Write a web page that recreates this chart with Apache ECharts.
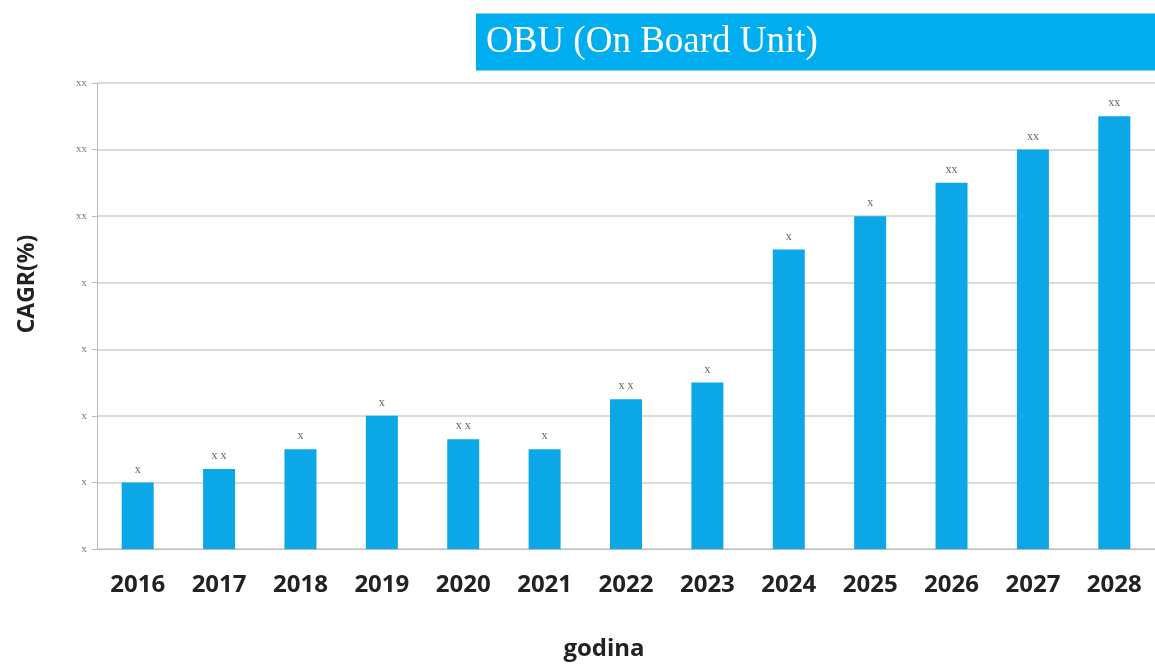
<!DOCTYPE html>
<html><head><meta charset="utf-8">
<script src="https://cdn.jsdelivr.net/npm/echarts@6/dist/echarts.min.js"></script>
<style>html,body{margin:0;padding:0;background:#fff}#c{width:1155px;height:666px}</style>
</head><body><div id="c"></div>
<script>
const categories = ['2016','2017','2018','2019','2020','2021','2022','2023','2024','2025','2026','2027','2028'];
const values = [1.0, 1.2, 1.5, 2.0, 1.65, 1.5, 2.25, 2.5, 4.5, 5.0, 5.5, 6.0, 6.5];
const barLabels = ['x','x x','x','x','x x','x','x x','x','x','x','xx','xx','xx'];
const yTickLabels = ['x','x','x','x','x','xx','xx','xx'];

const chart = echarts.init(document.getElementById('c'));
chart.setOption({
  animation: false,
  title: {
    text: 'OBU (On Board Unit)',
    left: 476, top: 14,
    padding: [10, 10, 10, 10],
    backgroundColor: '#00adef',
    textStyle: { color: '#fff', fontFamily: 'Liberation Serif', fontWeight: 'normal', fontSize: 37, width: 659, lineHeight: 36 }
  },
  grid: { left: 97, right: 0, top: 83, bottom: 117 },
  xAxis: {
    type: 'category', data: categories,
    name: 'godina', nameLocation: 'middle', nameGap: 88,
    nameTextStyle: { fontFamily: 'Open Sans', fontWeight: 'bold', fontSize: 24, color: '#222', padding: [0, 44, 0, 0] },
    axisLine: { lineStyle: { color: '#bbb' } },
    axisTick: { lineStyle: { color: '#ccc' }, length: 4 },
    axisLabel: { fontFamily: 'Open Sans', fontWeight: 'bold', fontSize: 24, color: '#222', margin: 24 }
  },
  yAxis: {
    type: 'value', min: 0, max: 7, interval: 1,
    name: 'CAGR(%)', nameLocation: 'middle', nameGap: 58, nameRotate: 90,
    nameTextStyle: { fontFamily: 'Open Sans', fontWeight: 'bold', fontSize: 23, color: '#222', padding: [0, 0, 0, 64] },
    axisLine: { show: true, lineStyle: { color: '#bbb' } },
    axisTick: { show: true, length: 5, lineStyle: { color: '#bbb' } },
    axisLabel: { color: '#777', fontSize: 11, fontFamily: 'Liberation Serif', margin: 10,
      formatter: (v) => yTickLabels[Math.round(v)] },
    splitLine: { lineStyle: { color: '#cfcfcf', width: 1.5 } }
  },
  series: [{
    type: 'bar', data: values, barWidth: 32,
    itemStyle: { color: '#0ba7e7' },
    label: { show: true, position: 'top', distance: 7, color: '#666', fontSize: 12, fontFamily: 'Liberation Serif',
      formatter: (p) => barLabels[p.dataIndex] }
  }]
});
</script></body></html>
